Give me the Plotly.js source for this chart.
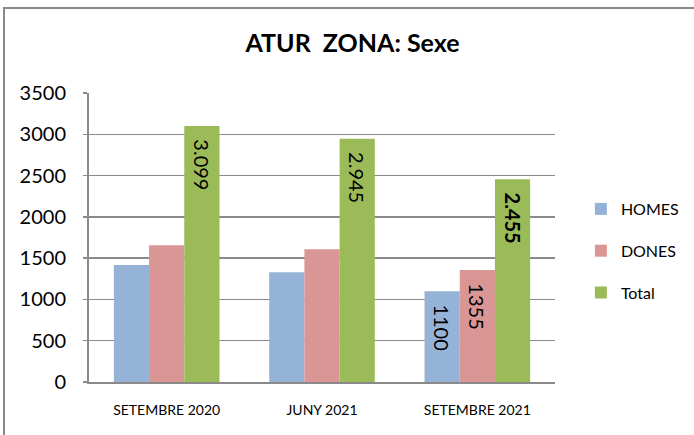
<!DOCTYPE html>
<html>
<head>
<meta charset="utf-8">
<script src="https://cdn.plot.ly/plotly-3.0.1.min.js"></script>
<style>
html,body{margin:0;padding:0;background:#fff;}
#frame{position:absolute;left:3px;top:7px;width:700px;height:440px;border-left:2px solid #8a8a8a;border-top:2px solid #8a8a8a;}
#chart{position:absolute;left:0;top:0;width:694px;height:435px;}
</style>
</head>
<body>
<div id="chart"></div>
<div id="frame"></div>
<script>
const categories = ["SETEMBRE 2020", "JUNY 2021", "SETEMBRE 2021"];
const homes = [1417, 1328, 1100];
const dones = [1657, 1607, 1355];
const total = [3099, 2945, 2455];
const homesLabels = ["", "", "1100"];
const donesLabels = ["", "", "1355"];
const totalLabels = ["3.099", "2.945", "<b>2.455</b>"];
const seriesNames = ["HOMES", "DONES", "Total"];
const yTicks = [0, 500, 1000, 1500, 2000, 2500, 3000, 3500];

const FONT = "Lato, 'Open Sans', sans-serif";
const pad = s => s ? "\u00a0\u00a0" + s : s;

function bar(name, y, labels, color) {
  return {
    type: "bar", name: name, x: categories, y: y,
    text: labels.map(pad), textposition: "inside", insidetextanchor: "end",
    textangle: 90, constraintext: "none", cliponaxis: false,
    textfont: {family: FONT, size: 20, color: "#000"},
    marker: {color: color, line: {width: 0}},
    legendgroup: name, hoverinfo: "x+y"
  };
}

const data = [
  bar(seriesNames[0], homes, homesLabels, "#95B3D7"),
  bar(seriesNames[1], dones, donesLabels, "#D99694"),
  bar(seriesNames[2], total, totalLabels, "#9BBB59")
];

const layout = {
  width: 694, height: 435,
  margin: {l: 89, r: 139, t: 93, b: 53},
  paper_bgcolor: "#fff", plot_bgcolor: "#fff",
  font: {family: FONT, size: 15, color: "#000"},
  title: {text: "<b>ATUR  ZONA: Sexe</b>", font: {family: FONT, size: 25, color: "#000"},
          x: 0.508, xref: "container", xanchor: "center", y: 0.9, yref: "container", yanchor: "middle"},
  barmode: "group", bargap: 0.32, bargroupgap: 0,
  xaxis: {type: "category", showgrid: false, showline: true, linecolor: "#8a8a8a", linewidth: 2,
          ticks: "", tickfont: {family: FONT, size: 14}, ticklabelstandoff: 14, fixedrange: true},
  yaxis: {range: [0, 3500], tickvals: yTicks, ticktext: yTicks.map(String), showgrid: true,
          gridcolor: "#8a8a8a", gridwidth: 1.5, showline: true, linecolor: "#8a8a8a", linewidth: 2,
          ticks: "outside", ticklen: 4, tickcolor: "#8a8a8a", tickwidth: 1.5,
          tickfont: {family: FONT, size: 20}, ticklabelstandoff: 13, zeroline: false, fixedrange: true},
  legend: {x: 0.837, xref: "container", xanchor: "left", y: 0.423, yref: "container", yanchor: "middle",
           font: {family: FONT, size: 16}, traceorder: "grouped", tracegroupgap: 18,
           itemwidth: 30, bgcolor: "rgba(0,0,0,0)"},
  showlegend: true
};

Plotly.newPlot("chart", data, layout, {displayModeBar: false, staticPlot: true});
</script>
</body>
</html>
